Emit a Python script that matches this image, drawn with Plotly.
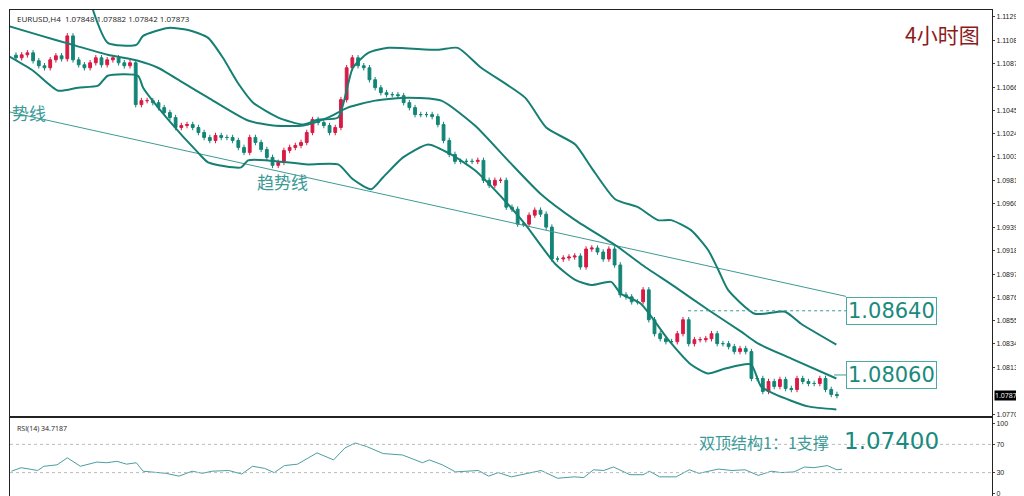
import plotly.graph_objects as go

closes = [1.10926,1.10953,1.10971,1.10899,1.10854,1.10836,1.10908,1.10944,1.10917,1.11124,
1.10908,1.10863,1.10836,1.10881,1.10926,1.10863,1.10908,1.10926,1.10881,1.10854,1.10881,
1.10503,
1.10539,1.10539,1.10521,1.10476,1.10431,1.10386,1.10296,1.10314,1.10323,1.10296,
1.10251,1.10206,1.10179,1.10224,1.10206,1.10206,1.10179,1.10116,1.10071,1.10206,
1.10161,1.10098,1.10026,1.09954,1.09981,1.10089,1.10116,1.10134,1.10161,1.10251,
1.10368,1.10341,1.10314,1.10251,1.10296,1.10548,1.10836,1.10926,1.10854,1.10836,
1.10728,1.10656,1.10611,1.10593,1.10593,1.10584,1.10521,1.10476,1.10413,1.10413,
1.10413,1.10395,1.10323,1.10179,1.10053,1.09990,1.09990,1.09990,1.09990,1.09999,
1.09819,1.09774,1.09819,1.09819,1.09576,1.09558,1.09423,1.09423,1.09504,1.09549,
1.09513,1.09396,1.09108,1.09108,1.09117,1.09126,1.09135,1.09036,1.09198,1.09207,
1.09171,1.09108,1.09198,1.09054,1.08784,1.08766,1.08721,1.08721,1.08829,1.08559,
1.08433,1.08388,1.08361,1.08361,1.08433,1.08559,1.08343,1.08379,1.08379,1.08388,
1.08433,1.08343,1.08343,1.08316,1.08271,1.08298,1.08271,1.08028,1.08028,1.07911,
1.08001,1.07956,1.08019,1.07938,1.07929,1.08028,1.08001,1.07983,1.07983,1.08028,
1.07929,1.07884,1.07873]
first_open = 1.10950
wick = 0.00025

upper_x = [13.5,16.1,21.1,22.3,26.7,30.2,33.7,36.3,38.9,41.6,46,50.4,53,56.5,59.1,61.8,65.3,74,77.5,81.6,89.3,93,98.1,100.9,105.1,109.1,112.6,114.9,118.4,121.4,123.2,124.9,129.6,134.9,137.7,143.9]
upper_y = [1.11358,1.11061,1.11043,1.11124,1.11196,1.11178,1.11106,1.10926,1.10701,1.10521,1.10386,1.10323,1.10368,1.10386,1.10836,1.10971,1.11016,1.10998,1.11016,1.10836,1.10566,1.10296,1.10143,1.09936,1.09648,1.09576,1.09459,1.09459,1.09369,1.09189,1.09009,1.08829,1.08613,1.08631,1.08523,1.08334]
mid_x = [-1.4,3.9,10,16.1,21.4,24.9,29.3,33.7,40.7,45.1,50.4,54.7,58.2,63,68.8,74.6,80.5,86.3,92.1,98.1,105.6,109.6,115.6,121.4,127.2,130.2,136,143.9]
mid_y = [1.11214,1.11133,1.11043,1.10953,1.10899,1.10836,1.10701,1.10566,1.10359,1.10314,1.10314,1.10386,1.10476,1.10539,1.10566,1.10539,1.10314,1.09999,1.09693,1.09459,1.09216,1.09063,1.08856,1.08649,1.08451,1.08343,1.08208,1.08028]
low_x = [-1.4,3,7.4,10.9,14.4,16.1,21.4,22.3,26.7,31.9,33.7,39.5,40.7,44.2,51.2,56.5,59.1,62.3,64.4,67.9,72.3,76.3,80.5,86.3,89.3,94.6,98.1,100.9,104.4,106.1,109.6,114.4,118.4,121.4,124.4,128.9,130.7,133.2,138.9,143.9]
low_y = [1.10944,1.10809,1.10629,1.10656,1.10674,1.10764,1.10764,1.10656,1.10368,1.10071,1.09981,1.09936,1.09999,1.09999,1.09963,1.09963,1.09828,1.09738,1.09846,1.10026,1.10143,1.10053,1.09909,1.09603,1.09423,1.09063,1.08919,1.08874,1.08901,1.08794,1.08704,1.08380,1.08155,1.08074,1.08118,1.08155,1.07956,1.07884,1.07776,1.07749]

trend_x = [-1.4, 145.6]
trend_y = [1.10440, 1.08770]

rsi_x = [-0.8,0.9,3.8,4.9,7.2,9,11.3,14.2,15.9,17.7,19.4,21.1,22.3,26.3,28.6,30.9,32.7,34.4,37.3,39.6,41.5,43.6,45.3,47.1,49.4,52.8,55.7,57.7,59.5,61.5,64.4,67.8,71.3,72.5,74.8,77.1,81.1,82.9,84.6,86.9,89.8,92.1,95,97.9,99.6,101.3,103.1,104.8,107.7,110,111.1,112.9,115.8,118.1,119.8,123.2,125.6,127.9,130.2,132.5,134.2,136.5,138.3,140,142.3,144,144.9]
rsi_y = [32,37,33,39,41,51,39,45,44,46,42,44,32,29,25,32,29,32,33,28,39,36,30,40,42,58,48,65,72,67,57,55,44,48,41,31,33,25,30,24,29,33,22,24,23,34,33,38,27,27,32,24,24,34,29,35,33,34,26,32,30,31,38,37,40,34,35]

price_ticks = [1.11295,1.11085,1.10875,1.10660,1.10450,1.10240,1.10030,1.09815,1.09605,1.09395,1.09185,1.08970,1.08760,1.08550,1.08340,1.08130,1.07705]
level1, level2 = 1.08640, 1.08060

opens = [first_open] + closes[:-1]
highs = [max(o, c) + wick for o, c in zip(opens, closes)]
lows = [min(o, c) - wick for o, c in zip(opens, closes)]
idx = list(range(len(closes)))

XR = [-1.05, 171.2]
TEAL = "#167f74"
fig = go.Figure()
fig.add_trace(go.Scatter(x=trend_x, y=trend_y, mode="lines", line=dict(color="#3f9a94", width=1), xaxis="x", yaxis="y"))
for bx, by in ((upper_x, upper_y), (mid_x, mid_y), (low_x, low_y)):
    fig.add_trace(go.Scatter(x=bx, y=by, mode="lines", line=dict(color=TEAL, width=2, shape="spline", smoothing=0.6), xaxis="x", yaxis="y"))
fig.add_trace(go.Candlestick(x=idx, open=opens, high=highs, low=lows, close=closes,
    increasing=dict(line=dict(color="#d81b45", width=1), fillcolor="#d81b45"),
    decreasing=dict(line=dict(color="#138577", width=1), fillcolor="#138577"),
    whiskerwidth=0, xaxis="x", yaxis="y"))
fig.add_trace(go.Scatter(x=[117.9, 145.6], y=[level1, level1], mode="lines", line=dict(color="#3f9a94", width=1, dash="dot"), xaxis="x", yaxis="y"))
fig.add_trace(go.Scatter(x=[143.5, 145.6], y=[level2, level2], mode="lines", line=dict(color="#3f9a94", width=1), xaxis="x", yaxis="y"))
fig.add_trace(go.Scatter(x=rsi_x, y=rsi_y, mode="lines", line=dict(color="#4a9ea0", width=1), xaxis="x2", yaxis="y2"))

ax = dict(showgrid=False, zeroline=False, showline=True, linecolor="#222", mirror=True, ticks="outside", ticklen=2,
          tickfont=dict(size=7, color="#222", family="Liberation Sans"), automargin=False)
fig.update_layout(
    width=1024, height=496, margin=dict(l=2, r=40, t=2, b=6),
    paper_bgcolor="white", plot_bgcolor="white", showlegend=False,
    xaxis=dict(domain=[0, 1], range=XR, showticklabels=False, rangeslider=dict(visible=False),
               showgrid=False, zeroline=False, showline=True, linecolor="#222", mirror=True, anchor="y"),
    yaxis=dict(domain=[0.1673, 1], range=[1.07686, 1.11358], side="right", tickvals=price_ticks,
               ticktext=["%.5f" % v for v in price_ticks], tickmode="array", anchor="x", **ax),
    xaxis2=dict(domain=[0, 1], range=XR, showticklabels=False, showgrid=False, zeroline=False,
                showline=True, linecolor="#222", mirror=True, anchor="y2", ticks="outside", ticklen=3, dtick=8),
    yaxis2=dict(domain=[0, 0.163], range=[-6, 106.8], side="right", tickvals=[0, 30, 70, 100], anchor="x2", **ax),
    shapes=[dict(type="line", xref="x2", yref="y2", x0=XR[0], x1=XR[1], y0=v, y1=v,
                 line=dict(color="#bbbbbb", width=1, dash="dot")) for v in (30, 70)],
)
ann = [
    dict(x=0.005, y=0.997, xref="paper", yref="paper", text="EURUSD,H4  1.07848 1.07882 1.07842 1.07873", font=dict(size=8, color="#222")),
    dict(x=0.005, y=0.155, xref="paper", yref="paper", text="RSI(14) 34.7187", font=dict(size=7, color="#222")),
    dict(x=0.95, y=0.985, xref="paper", yref="paper", text="4小时图", font=dict(size=21, color="#8b1a1a", family="Noto Sans CJK SC")),
    dict(x=42, y=1.0981, xref="x", yref="y", text="趋势线", font=dict(size=17, color="#3a9a96", family="Noto Sans CJK SC")),
    dict(x=-1.05, y=1.1043, xref="x", yref="y", text="势线", font=dict(size=17, color="#3a9a96", family="Noto Sans CJK SC")),
    dict(x=0.7, y=0.143, xref="paper", yref="paper", text="双顶结构1：1支撑", font=dict(size=16, color="#3a9a96", family="Noto Sans CJK SC")),
    dict(x=0.847, y=0.148, xref="paper", yref="paper", text="1.07400", font=dict(size=23, color="#1a8a80", family="DejaVu Sans")),
]
for a in ann:
    a.update(showarrow=False, xanchor="left", yanchor="top" if a["yref"] == "paper" else "middle")
ann[2]["xanchor"] = "center"
for lv in (level1, level2):
    ann.append(dict(x=145.6, y=lv, xref="x", yref="y", text="%.5f" % lv, showarrow=False, xanchor="left", yanchor="middle",
                    font=dict(size=21, color="#1a8a80", family="DejaVu Sans"), bordercolor="#4aa9a3", borderwidth=1,
                    borderpad=1, bgcolor="white"))
ann.append(dict(x=1.0, y=1.07873, xref="paper", yref="y", text="1.07873", showarrow=False, xanchor="left", yanchor="middle",
                font=dict(size=7, color="white"), bgcolor="black", borderpad=0, xshift=2))
fig.update_layout(annotations=ann)
fig.write_html("out.html")
